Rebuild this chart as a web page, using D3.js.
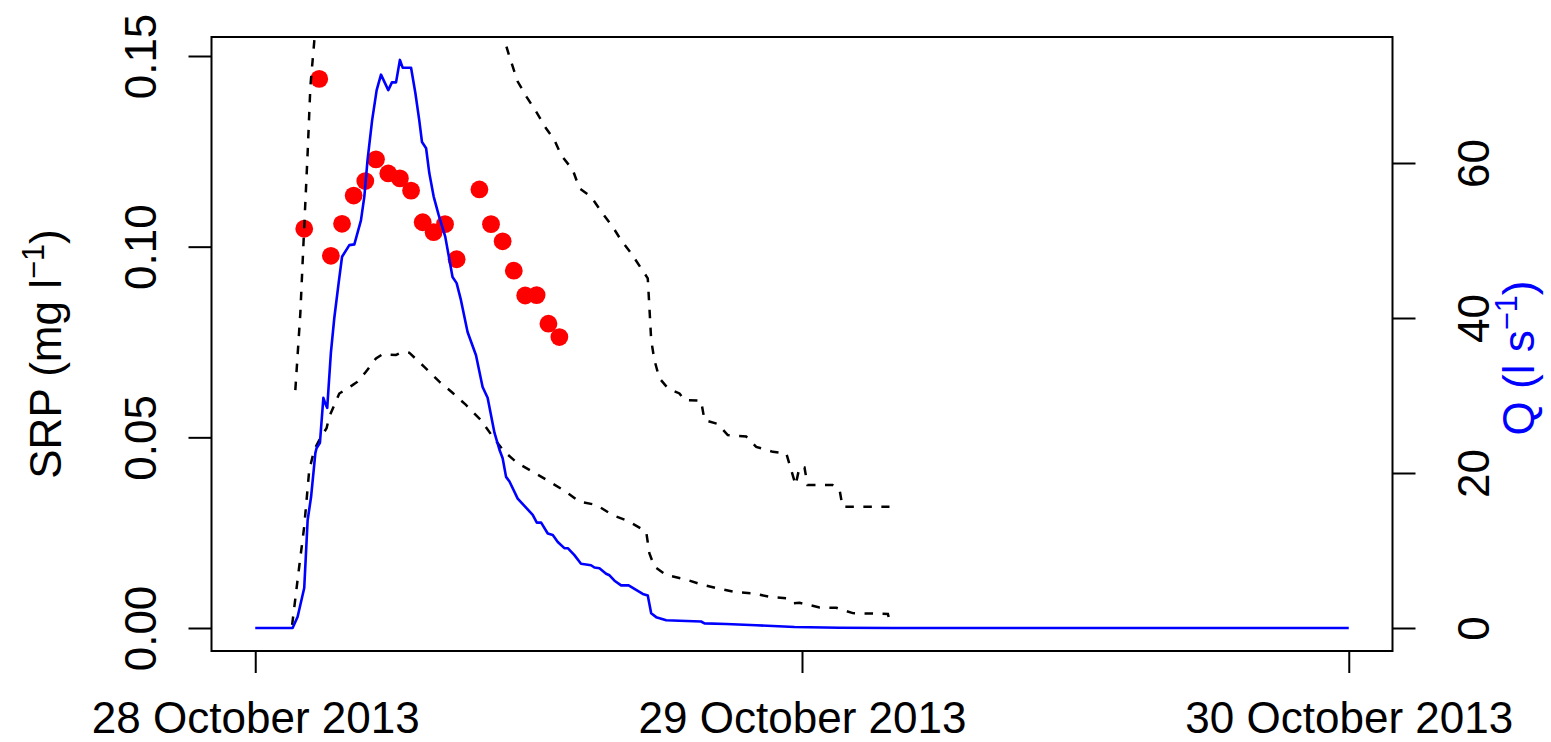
<!DOCTYPE html>
<html>
<head>
<meta charset="utf-8">
<script src="https://cdn.jsdelivr.net/npm/d3@7"></script>
<style>
  html, body { margin: 0; padding: 0; background: #ffffff; }
  svg { display: block; }
  text { font-family: "Liberation Sans", Arial, Helvetica, sans-serif; }
</style>
</head>
<body>
<svg id="chart" width="1551" height="742"></svg>
<script>
// ---- data (hours since 28 October 2013 00:00) ----
const qHours = [0,1.64,1.86,2.15,2.30,2.45,2.64,2.69,2.84,2.99,3.07,3.16,3.22,3.32,3.47,3.66,3.81,4.13,4.35,4.64,4.79,4.93,5.13,5.33,5.52,5.84,6.00,6.18,6.35,6.47,6.84,7.03,7.20,7.32,7.50,7.64,7.83,8.05,8.34,8.66,8.84,9.03,9.32,9.69,9.98,10.20,10.50,10.72,10.86,11.01,11.16,11.52,12.18,12.36,12.55,12.84,13.06,13.28,13.57,13.72,14.01,14.30,14.74,14.89,15.11,15.40,15.55,15.77,16.06,16.39,17.01,17.23,17.38,17.60,18.04,18.62,19.57,19.72,20.67,21.99,23.67,25.65,27.99,48];
const qValues = [0,0,1.46,5.16,13.9,16.9,22.6,23.2,23.9,29.7,29.0,28.4,31.1,35.5,40.0,44.5,47.9,49.4,49.5,52.6,55.7,60.4,65.5,69.4,71.4,69.4,70.4,70.4,73.3,72.3,72.3,69.0,65.5,62.7,61.9,58.7,55.7,53.3,50.5,45.3,44.5,42.3,38.2,35.2,31.1,29.7,25.2,23.0,21.9,19.5,18.9,16.7,14.6,13.6,13.6,12.2,12.0,11.1,10.3,10.3,9.4,8.3,8.1,7.8,7.7,7.0,6.8,6.1,5.5,5.5,4.4,4.2,1.9,1.4,1.0,0.94,0.84,0.6,0.52,0.35,0.13,0.04,0,0];

const srpHours = [2.15,2.81,3.32,3.81,4.32,4.83,5.30,5.84,6.35,6.84,7.35,7.83,8.33,8.84,9.84,10.35,10.86,11.35,11.85,12.35,12.87,13.35];
const srpValues = [0.1047,0.1440,0.0976,0.1060,0.1134,0.1172,0.1229,0.1192,0.1179,0.1147,0.1064,0.1038,0.1059,0.0967,0.1150,0.1059,0.1014,0.0937,0.0872,0.0873,0.0798,0.0763];

const upperHours = [1.76,1.98,2.15,2.30,2.42,2.59,3.0,6.0,10.5,10.92,11.16,11.52,11.91,12.33,12.77,13.13,13.43,13.94,14.23,14.74,15.25,15.69,16.06,16.50,16.94,17.23,17.30,17.38,17.52,17.74,18.11,18.62,18.84,19.57,19.72,20.30,20.74,21.55,21.99,22.72,23.31,23.72,23.89,24.11,24.24,25.34,25.65,25.78,27.84];
const upperValues = [0.0624,0.0826,0.1052,0.1246,0.1420,0.1538,0.19,0.25,0.17,0.1546,0.1498,0.1433,0.1393,0.1354,0.1310,0.1280,0.1240,0.1201,0.1153,0.1131,0.1087,0.1052,0.1017,0.0983,0.0943,0.0917,0.0843,0.0755,0.0703,0.0655,0.0629,0.0615,0.0598,0.0596,0.0545,0.0535,0.0506,0.0502,0.0475,0.0462,0.0458,0.0375,0.0422,0.0421,0.0375,0.0375,0.0362,0.0318,0.0318];

const lowerHours = [1.62,1.93,2.15,2.37,2.59,2.81,3.13,3.25,3.69,4.27,4.49,4.86,5.30,5.59,6.18,6.40,6.76,7.42,8.08,8.66,9.25,9.91,10.42,10.94,11.52,12.18,12.91,13.57,14.23,14.96,15.69,16.35,17.16,17.30,17.52,18.04,18.92,19.64,20.23,21.11,21.84,22.65,23.31,23.60,23.89,24.77,25.50,26.23,27.77,27.82];
const lowerValues = [0.0008,0.0161,0.0266,0.0414,0.0467,0.0493,0.0524,0.0554,0.0615,0.0637,0.0646,0.0672,0.0707,0.0718,0.0716,0.0722,0.0722,0.0685,0.0646,0.0617,0.0585,0.0545,0.0502,0.0462,0.0432,0.0410,0.0384,0.0360,0.0331,0.0323,0.0296,0.0281,0.0253,0.0196,0.0161,0.0139,0.0127,0.0113,0.0105,0.0094,0.0091,0.0081,0.0078,0.0065,0.0066,0.0054,0.0053,0.0039,0.0037,0.0025];

const xTickDates = ["2013-10-28","2013-10-29","2013-10-30"];
const srpTicks = [0, 0.05, 0.10, 0.15];
const qTicks = [0, 20, 40, 60];

// ---- layout ----
const box = {left: 211.5, right: 1392.5, top: 37, bottom: 651};
const FONT = 44;
const t0 = Date.UTC(2013, 9, 28);
const toDate = h => new Date(t0 + h * 3600e3);

const x = d3.scaleUtc()
  .domain([toDate(-1.92), toDate(49.92)])
  .range([box.left, box.right]);
const ySRP = d3.scaleLinear().domain([0, 0.15]).range([628, 56]);
const yQ = d3.scaleLinear().domain([0, 60]).range([628, 163]);

const svg = d3.select("#chart");

svg.append("defs").append("clipPath").attr("id", "plotclip")
  .append("rect")
  .attr("x", box.left).attr("y", box.top)
  .attr("width", box.right - box.left).attr("height", box.bottom - box.top);

const plot = svg.append("g").attr("clip-path", "url(#plotclip)");

// SRP points
const pts = srpHours.map((h, i) => ({h, v: srpValues[i]}));
plot.selectAll("circle.srp").data(pts).enter().append("circle")
  .attr("class", "srp")
  .attr("cx", d => x(toDate(d.h)))
  .attr("cy", d => ySRP(d.v))
  .attr("r", 8.9)
  .attr("fill", "#ff0000");

// dashed bounds
const srpLine = d3.line().x(d => x(toDate(d.h))).y(d => ySRP(d.v));
const upper = upperHours.map((h, i) => ({h, v: upperValues[i]}));
const lower = lowerHours.map((h, i) => ({h, v: lowerValues[i]}));
[upper, lower].forEach(series => {
  plot.append("path").datum(series)
    .attr("d", srpLine)
    .attr("fill", "none")
    .attr("stroke", "#000")
    .attr("stroke-width", 2.5)
    .attr("stroke-dasharray", "8.5,9.5");
});

// discharge line
const qData = qHours.map((h, i) => ({h, v: qValues[i]}));
plot.append("path").datum(qData)
  .attr("d", d3.line().x(d => x(toDate(d.h))).y(d => yQ(d.v)))
  .attr("fill", "none")
  .attr("stroke", "#0000ff")
  .attr("stroke-width", 2.6)
  .attr("stroke-linejoin", "round");

// box
svg.append("rect")
  .attr("x", box.left).attr("y", box.top)
  .attr("width", box.right - box.left).attr("height", box.bottom - box.top)
  .attr("fill", "none").attr("stroke", "#000").attr("stroke-width", 2);

// x axis
const fmt = d3.utcFormat("%-d %B %Y");
const xAxis = d3.axisBottom(x)
  .tickValues(xTickDates.map(s => new Date(s + "T00:00:00Z")))
  .tickFormat(fmt).tickSizeOuter(0).tickSizeInner(22);
const gx = svg.append("g").attr("transform", `translate(0,${box.bottom})`).call(xAxis);
gx.select(".domain").remove();
gx.selectAll(".tick line").attr("stroke", "#000").attr("stroke-width", 2);
gx.selectAll(".tick text")
  .attr("y", 82).attr("dy", 0)
  .attr("fill", "#000")
  .style("font-size", FONT + "px")
  .style("font-family", '"Liberation Sans", Arial, sans-serif');

// left axis
const yAxisL = d3.axisLeft(ySRP).tickValues(srpTicks).tickFormat(d3.format(".2f"))
  .tickSizeOuter(0).tickSizeInner(23);
const gl = svg.append("g").attr("transform", `translate(${box.left},0)`).call(yAxisL);
gl.select(".domain").remove();
gl.selectAll(".tick line").attr("stroke", "#000").attr("stroke-width", 2);
gl.selectAll(".tick text")
  .attr("x", 0).attr("dy", 0)
  .attr("text-anchor", "middle")
  .attr("transform", "translate(-56,0) rotate(-90)")
  .attr("fill", "#000")
  .style("font-size", FONT + "px")
  .style("font-family", '"Liberation Sans", Arial, sans-serif');

// right axis
const yAxisR = d3.axisRight(yQ).tickValues(qTicks).tickFormat(d3.format("d"))
  .tickSizeOuter(0).tickSizeInner(23);
const gr = svg.append("g").attr("transform", `translate(${box.right},0)`).call(yAxisR);
gr.select(".domain").remove();
gr.selectAll(".tick line").attr("stroke", "#000").attr("stroke-width", 2);
gr.selectAll(".tick text")
  .attr("x", 0).attr("dy", 0)
  .attr("text-anchor", "middle")
  .attr("transform", "translate(96,0) rotate(-90)")
  .attr("fill", "#000")
  .style("font-size", FONT + "px")
  .style("font-family", '"Liberation Sans", Arial, sans-serif');

// axis titles
const tl = svg.append("text")
  .attr("transform", `translate(61,354) rotate(-90)`)
  .attr("text-anchor", "middle").attr("fill", "#000")
  .style("font-size", FONT + "px");
tl.append("tspan").text("SRP (mg l");
tl.append("tspan").attr("dy", -17).style("font-size", (FONT * 0.7) + "px").text("\u22121");
tl.append("tspan").attr("dy", 17).text(")");

const tr = svg.append("text")
  .attr("transform", `translate(1534,358) rotate(-90)`)
  .attr("text-anchor", "middle").attr("fill", "#0000ff")
  .style("font-size", FONT + "px");
tr.append("tspan").text("Q (l s");
tr.append("tspan").attr("dy", -17).style("font-size", (FONT * 0.7) + "px").text("\u22121");
tr.append("tspan").attr("dy", 17).text(")");
</script>
</body>
</html>
